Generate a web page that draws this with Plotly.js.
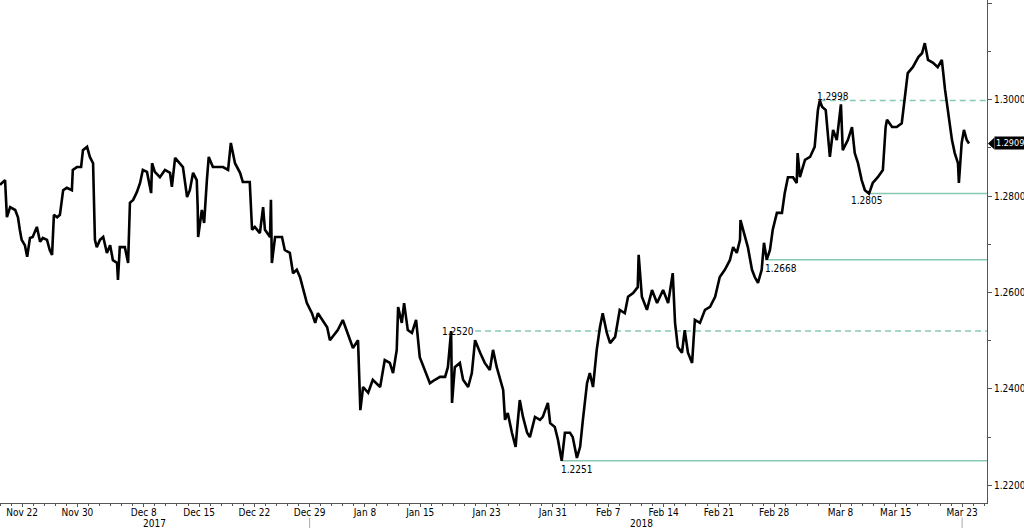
<!DOCTYPE html>
<html><head><meta charset="utf-8">
<script src="https://cdn.plot.ly/plotly-3.0.1.min.js"></script>
<style>html,body{margin:0;padding:0;background:#fff}#chart{width:1024px;height:528px}</style>
</head><body><div id="chart"></div>
<script>
// Intraday quotes
const times = [
'2017-11-20 00:00','2017-11-20 11:00','2017-11-20 15:00','2017-11-20 22:00','2017-11-21 09:00','2017-11-21 15:00','2017-11-21 19:00','2017-11-21 23:00',
'2017-11-22 06:00','2017-11-22 11:00','2017-11-22 17:00','2017-11-22 23:00','2017-11-24 08:00','2017-11-24 15:00','2017-11-24 21:00',
'2017-11-27 06:00','2017-11-27 12:00','2017-11-27 17:00','2017-11-27 21:00','2017-11-28 04:00','2017-11-28 10:00','2017-11-28 17:00',
'2017-11-29 01:00','2017-11-29 12:00','2017-11-29 14:00','2017-11-29 23:00','2017-11-30 08:00','2017-11-30 12:00','2017-11-30 21:00',
'2017-12-01 03:00','2017-12-01 10:00','2017-12-01 14:00','2017-12-01 18:00','2017-12-04 01:00','2017-12-04 08:00','2017-12-04 16:00','2017-12-04 23:00',
'2017-12-05 05:00','2017-12-05 14:00','2017-12-05 16:00','2017-12-05 20:00','2017-12-06 07:00','2017-12-06 14:00','2017-12-06 18:00',
'2017-12-07 01:00','2017-12-07 09:00','2017-12-07 16:00','2017-12-07 22:00','2017-12-08 07:00','2017-12-08 16:00','2017-12-08 18:00',
'2017-12-11 00:00','2017-12-11 11:00','2017-12-11 22:00','2017-12-12 09:00','2017-12-12 13:00','2017-12-12 20:00',
'2017-12-13 07:00','2017-12-13 13:00','2017-12-13 22:00','2017-12-14 04:00','2017-12-14 11:00','2017-12-14 19:00','2017-12-14 21:00','2017-12-14 22:00',
'2017-12-15 06:00','2017-12-15 11:00','2017-12-15 17:00','2017-12-15 21:00','2017-12-18 06:00','2017-12-18 17:00','2017-12-19 04:00','2017-12-19 15:00','2017-12-19 21:00',
'2017-12-20 06:00','2017-12-20 17:00','2017-12-20 23:00','2017-12-21 14:00','2017-12-21 19:00','2017-12-22 01:00','2017-12-22 12:00','2017-12-22 19:00','2017-12-22 23:00',
'2017-12-25 10:00','2017-12-25 12:00','2017-12-25 14:00','2017-12-25 21:00','2017-12-26 12:00','2017-12-26 18:00','2017-12-27 05:00','2017-12-27 12:00','2017-12-27 20:00',
'2017-12-28 03:00','2017-12-28 10:00','2017-12-28 18:00','2017-12-29 05:00','2017-12-29 12:00','2017-12-29 18:00',
'2018-01-02 03:00','2018-01-02 14:00','2018-01-02 20:00','2018-01-03 07:00','2018-01-03 13:00','2018-01-04 00:00','2018-01-04 11:00','2018-01-04 22:00',
'2018-01-05 09:00','2018-01-05 13:00','2018-01-05 14:00','2018-01-05 20:00','2018-01-08 07:00','2018-01-08 17:00','2018-01-09 09:00','2018-01-09 19:00',
'2018-01-10 06:00','2018-01-10 13:00','2018-01-10 21:00','2018-01-11 00:00','2018-01-11 08:00','2018-01-11 13:00','2018-01-11 21:00',
'2018-01-12 06:00','2018-01-12 15:00','2018-01-12 23:00','2018-01-15 10:00','2018-01-15 21:00','2018-01-16 08:00','2018-01-16 19:00',
'2018-01-17 06:00','2018-01-17 12:00','2018-01-17 19:00','2018-01-17 21:00','2018-01-18 03:00','2018-01-18 14:00','2018-01-18 21:00',
'2018-01-19 08:00','2018-01-19 16:00','2018-01-19 23:00','2018-01-22 10:00','2018-01-22 20:00','2018-01-23 07:00','2018-01-23 14:00','2018-01-23 22:00',
'2018-01-24 05:00','2018-01-24 12:00','2018-01-24 16:00','2018-01-24 22:00','2018-01-25 07:00','2018-01-25 15:00','2018-01-25 18:00',
'2018-01-26 00:00','2018-01-26 07:00','2018-01-26 16:00','2018-01-26 22:00','2018-01-29 09:00','2018-01-29 20:00','2018-01-30 02:00','2018-01-30 13:00','2018-01-30 18:00',
'2018-01-31 04:00','2018-01-31 11:00','2018-01-31 19:00','2018-02-01 02:00','2018-02-01 13:00','2018-02-01 19:00','2018-02-02 04:00','2018-02-02 11:00','2018-02-02 17:00',
'2018-02-05 02:00','2018-02-05 08:00','2018-02-05 15:00','2018-02-05 23:00','2018-02-06 06:00','2018-02-06 12:00','2018-02-06 21:00','2018-02-07 04:00','2018-02-07 15:00',
'2018-02-08 01:00','2018-02-08 12:00','2018-02-08 19:00','2018-02-09 06:00','2018-02-09 16:00','2018-02-09 18:00',
'2018-02-12 01:00','2018-02-12 12:00','2018-02-12 23:00','2018-02-13 10:00','2018-02-13 23:00','2018-02-14 10:00','2018-02-14 20:00',
'2018-02-15 01:00','2018-02-15 07:00','2018-02-15 16:00','2018-02-15 22:00','2018-02-16 05:00','2018-02-16 14:00','2018-02-16 20:00',
'2018-02-19 07:00','2018-02-19 18:00','2018-02-20 05:00','2018-02-20 16:00','2018-02-21 02:00','2018-02-21 13:00',
'2018-02-22 00:00','2018-02-22 07:00','2018-02-22 15:00','2018-02-22 22:00','2018-02-22 23:00','2018-02-23 09:00','2018-02-23 15:00',
'2018-02-26 00:00','2018-02-26 06:00','2018-02-26 13:00','2018-02-26 21:00','2018-02-27 02:00','2018-02-27 08:00','2018-02-27 15:00','2018-02-27 21:00',
'2018-02-28 06:00','2018-02-28 17:00','2018-02-28 23:00','2018-03-01 06:00','2018-03-01 17:00','2018-03-02 01:00','2018-03-02 03:00','2018-03-02 08:00','2018-03-02 19:00',
'2018-03-05 06:00','2018-03-05 16:00','2018-03-05 23:00','2018-03-06 03:00','2018-03-06 08:00','2018-03-06 16:00','2018-03-07 01:00','2018-03-07 08:00','2018-03-07 16:00',
'2018-03-08 01:00','2018-03-08 05:00','2018-03-08 16:00','2018-03-09 01:00','2018-03-09 07:00','2018-03-09 14:00','2018-03-09 22:00',
'2018-03-12 05:00','2018-03-12 14:00','2018-03-12 22:00','2018-03-13 09:00','2018-03-13 20:00','2018-03-14 02:00','2018-03-14 05:00','2018-03-14 16:00',
'2018-03-15 02:00','2018-03-15 13:00','2018-03-15 20:00','2018-03-16 02:00','2018-03-16 13:00',
'2018-03-19 01:00','2018-03-19 09:00','2018-03-19 15:00','2018-03-19 22:00','2018-03-20 09:00','2018-03-20 19:00',
'2018-03-21 04:00','2018-03-21 11:00','2018-03-21 17:00','2018-03-22 02:00','2018-03-22 08:00','2018-03-22 15:00','2018-03-22 17:00','2018-03-22 23:00',
'2018-03-23 04:00','2018-03-23 10:00','2018-03-23 15:00'
];
const rates = [
1.2823,1.2833,1.2756,1.2777,1.2771,1.2756,1.2730,1.2709,
1.2698,1.2674,1.2713,1.2715,1.2736,1.2705,1.2713,
1.2709,1.2688,1.2678,1.2761,1.2756,1.2761,1.2812,
1.2817,1.2812,1.2854,1.2860,1.2860,1.2895,1.2902,
1.2881,1.2868,1.2709,1.2694,1.2709,1.2715,1.2682,1.2698,
1.2667,1.2661,1.2626,1.2694,1.2694,1.2661,1.2786,
1.2792,1.2808,1.2827,1.2854,1.2850,1.2806,1.2868,
1.2850,1.2839,1.2854,1.2848,1.2819,1.2879,
1.2868,1.2860,1.2798,1.2812,1.2848,1.2833,1.2777,1.2715,
1.2771,1.2744,1.2833,1.2881,1.2860,1.2860,1.2860,1.2854,1.2910,
1.2868,1.2848,1.2829,1.2829,1.2730,1.2736,1.2723,1.2777,1.2730,
1.2715,1.2792,1.2661,1.2715,1.2715,1.2688,1.2682,1.2640,1.2647,
1.2632,1.2605,1.2578,1.2557,1.2537,1.2557,
1.2543,1.2528,1.2501,1.2516,1.2522,1.2543,1.2516,1.2485,
1.2501,1.2398,1.2356,1.2404,1.2392,1.2419,1.2404,1.2460,
1.2454,1.2433,1.2481,1.2570,1.2537,1.2578,1.2522,
1.2516,1.2543,1.2466,1.2439,1.2412,1.2419,1.2425,
1.2425,1.2445,1.2520,1.2371,1.2445,1.2454,1.2419,
1.2404,1.2433,1.2501,1.2475,1.2454,1.2439,1.2481,1.2445,
1.2419,1.2398,1.2336,1.2350,1.2309,1.2280,1.2315,
1.2377,1.2342,1.2309,1.2300,1.2342,1.2336,1.2342,1.2371,1.2329,
1.2321,1.2294,1.2251,1.2309,1.2309,1.2300,1.2257,1.2280,1.2336,
1.2412,1.2433,1.2404,1.2481,1.2528,1.2557,1.2516,1.2495,1.2508,
1.2564,1.2557,1.2591,1.2599,1.2611,1.2678,
1.2591,1.2564,1.2605,1.2578,1.2605,1.2578,1.2640,
1.2537,1.2487,1.2475,1.2522,1.2475,1.2454,1.2543,
1.2537,1.2564,1.2570,1.2591,1.2632,1.2647,
1.2667,1.2694,1.2682,1.2709,1.2750,1.2715,1.2694,
1.2647,1.2632,1.2620,1.2647,1.2703,1.2668,1.2688,1.2730,
1.2765,1.2765,1.2806,1.2839,1.2839,1.2827,1.2889,1.2839,1.2875,
1.2881,1.2902,1.2978,1.2998,1.2985,1.2978,1.2881,1.2937,1.2916,
1.2990,1.2895,1.2916,1.2943,1.2889,1.2868,1.2833,
1.2812,1.2805,1.2827,1.2839,1.2854,1.2943,1.2958,1.2943,
1.2943,1.2951,1.3005,1.3055,1.3067,
1.3088,1.3096,1.3117,1.3082,1.3076,1.3067,
1.3082,1.3020,1.2978,1.2916,1.2889,1.2868,1.2827,1.2910,
1.2937,1.2916,1.2909
];

const tickDates = ['2017-11-22','2017-11-30','2017-12-08','2017-12-15','2017-12-22','2017-12-29','2018-01-08','2018-01-15','2018-01-23',
                   '2018-01-31','2018-02-07','2018-02-14','2018-02-21','2018-02-28','2018-03-08','2018-03-15','2018-03-23'];
const tickLabels = ['Nov 22','Nov 30','Dec 8','Dec 15','Dec 22','Dec 29','Jan 8','Jan 15','Jan 23',
                    'Jan 31','Feb 7','Feb 14','Feb 21','Feb 28','Mar 8','Mar 15','Mar 23'];
const yearLabels = ['2017','2018'];
const yearCenters = ['2017-12-11 00:00','2018-02-12 00:00'];
const separatorDates = ['2017-12-29','2018-03-23'];
const holidays = ['2017-11-23','2018-01-01'];

const levelValues = [1.2998, 1.2805, 1.2668, 1.2520, 1.2251];
const levelStarts = ['2018-03-06 03:00','2018-03-12 12:00','2018-02-27 04:00','2018-01-19 23:00','2018-01-31 19:00'];
const levelDashed = [true, false, false, true, false];
// label placement styles
const labelXAnchor = ['left','center','left','right','left'];
const labelYAnchor = ['bottom','top','top','middle','top'];
const labelXShift  = [-4, -2, -1, 0, -2];
const labelYShift  = [-2, 0, -2, 0, -2];

const xRange = ['2017-11-20 00:00','2018-03-27 06:00'];
const yRange = [1.21635, 1.32064];
const FONT = "'DejaVu Sans Condensed','DejaVu Sans','Liberation Sans',sans-serif";
const LEVEL_COLOR = '#86c8b2';
const AXIS_COLOR = '#555555';

const shapes = [];
const annotations = [];
levelValues.forEach((v, i) => {
  shapes.push({type:'line', xref:'x', yref:'y', x0:levelStarts[i], x1:xRange[1], y0:v, y1:v,
    line:{color:LEVEL_COLOR, width:1.5, dash: levelDashed[i] ? '6px,4px' : 'solid'}, layer:'below'});
  annotations.push({xref:'x', yref:'y', x:levelStarts[i], y:v, text:v.toFixed(4), showarrow:false,
    xanchor:labelXAnchor[i], yanchor:labelYAnchor[i], xshift:labelXShift[i], yshift:labelYShift[i],
    font:{family:FONT, size:10, color:'#000'}, borderpad:0});
});
yearLabels.forEach((t, i) => {
  annotations.push({xref:'x', yref:'paper', x:yearCenters[i], y:-0.040, text:t, showarrow:false,
    xanchor:'center', yanchor:'middle', font:{family:FONT, size:10, color:'#000'}, borderpad:0});
});
separatorDates.forEach(d => {
  shapes.push({type:'line', xref:'x', yref:'paper', x0:d, x1:d, y0:-0.029, y1:-0.05,
    line:{color:'#aaaaaa', width:1}});
});
// last-price tag
const last = rates[rates.length - 1];
const yFrac = (last - yRange[0]) / (yRange[1] - yRange[0]);
const hFrac = 6 / 503;
shapes.push({type:'path', xref:'paper', yref:'paper',
  path:`M 1.001 ${yFrac} L 1.0075 ${yFrac + hFrac} L 1.0075 ${yFrac - hFrac} Z`,
  fillcolor:'#000', line:{width:0}});
annotations.push({xref:'paper', yref:'y', x:1, y:last, text:last.toFixed(4), showarrow:false,
  xanchor:'left', yanchor:'middle', xshift:7, bgcolor:'#000', borderpad:1,
  font:{family:FONT, size:9, color:'#fff'}});

const trace = {type:'scatter', mode:'lines', x:times, y:rates,
  line:{color:'#000', width:2.6}, hoverinfo:'skip'};

const layout = {
  width:1024, height:528,
  margin:{l:0, r:37, t:0, b:25, pad:0},
  paper_bgcolor:'#fff', plot_bgcolor:'#fff',
  showlegend:false,
  font:{family:FONT, size:10, color:'#000'},
  xaxis:{type:'date', range:xRange,
    rangebreaks:[{bounds:['sat','mon']},{values:holidays}],
    tickmode:'array', tickvals:tickDates, ticktext:tickLabels,
    ticks:'outside', ticklen:3, tickcolor:AXIS_COLOR, tickwidth:1, ticklabelstandoff:-3,
    showline:true, linecolor:AXIS_COLOR, linewidth:1, mirror:false,
    showgrid:false, zeroline:false, tickfont:{family:FONT, size:10, color:'#000'},
    minor:{ticks:'outside', ticklen:2, tickcolor:AXIS_COLOR, dtick:86400000, showgrid:false}
  },
  yaxis:{side:'right', range:yRange, tick0:1.22, dtick:0.02, tickformat:'.4f',
    ticks:'outside', ticklen:4, tickcolor:AXIS_COLOR, tickwidth:1,
    showline:true, linecolor:AXIS_COLOR, linewidth:1,
    showgrid:false, zeroline:false, tickfont:{family:FONT, size:10, color:'#000'},
    minor:{ticks:'outside', ticklen:3, tickcolor:AXIS_COLOR, dtick:0.01, showgrid:false}
  },
  shapes:shapes, annotations:annotations
};
Plotly.newPlot('chart', [trace], layout, {staticPlot:true, displayModeBar:false});
</script>
</body></html>
